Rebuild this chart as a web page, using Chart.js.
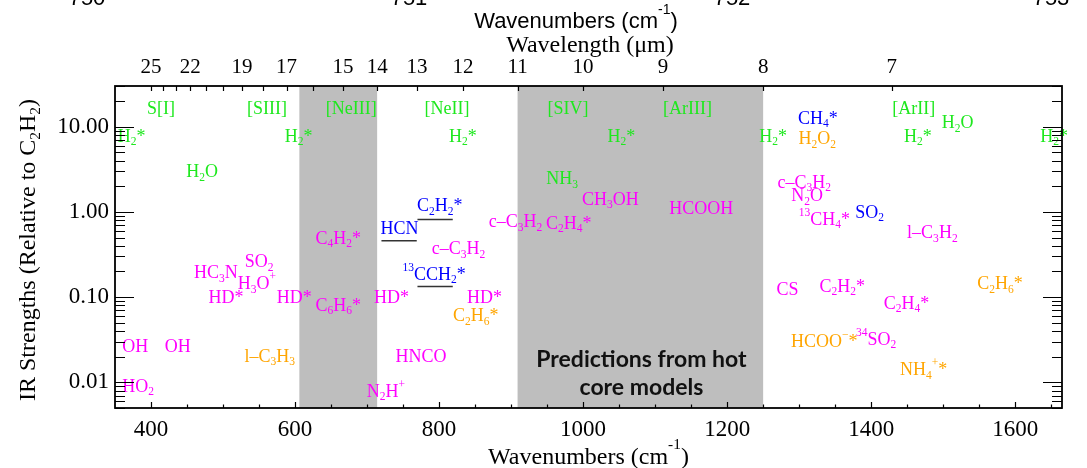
<!DOCTYPE html>
<html><head><meta charset="utf-8">
<script src="https://cdn.jsdelivr.net/npm/chart.js@4"></script>
<style>html,body{margin:0;padding:0;background:#fff;overflow:hidden}canvas{display:block}</style>
</head><body>
<canvas id="c" width="1087" height="468"></canvas>
<script>
// ---------- data ----------
const xMin = 350, xMax = 1665;            // wavenumber range (cm^-1)
const yMin = 0.005, yMax = 30;            // IR strength range
const bottomTicks = [400, 600, 800, 1000, 1200, 1400, 1600];
const yTicks = [0.01, 0.1, 1, 10];
const topTickMicrons = [25,24,23,22,21,20,19,18,17,16,15,14,13,12,11,10,9,8,7];
const topLabelMicrons = [25,22,19,17,15,14,13,12,11,10,9,8,7];
const shadedStart = [606, 909];
const shadedEnd = [714, 1250];
const topOffsetLabels = ['750', '751', '752', '753'];

// [text, wavenumber, strength]
const atomicAndH2Lines = [   // green
  ['S[I]', 414, 16.4], ['[SIII]', 561, 16.4], ['[NeIII]', 678, 16.4], ['[NeII]', 811, 16.4],
  ['[SIV]', 979, 16.4], ['[ArIII]', 1145, 16.4], ['[ArII]', 1459, 16.4],
  ['H_2*', 373, 7.83], ['H_2*', 605, 7.83], ['H_2*', 833, 7.83], ['H_2*', 1053, 7.83],
  ['H_2*', 1264, 7.83], ['H_2*', 1465, 7.83], ['H_2*', 1654, 7.83],
  ['H_2O', 471, 3.0], ['H_2O', 1520, 11.2], ['NH_3', 971, 2.48]
];
const iceAndGasSpecies = [   // magenta
  ['CH_3OH', 1038, 1.42], ['HCOOH', 1164, 1.12], ['c–C_3H_2', 906, 0.783], ['C_2H_4*', 980, 0.748],
  ['c–C_3H_2', 827, 0.375], ['C_4H_2*', 660, 0.496], ['HC_3N', 490, 0.197], ['SO_2', 550, 0.262],
  ['H_3O^+', 547, 0.145], ['HD*', 504, 0.1003], ['HD*', 599, 0.1003], ['HD*', 734, 0.1003],
  ['HD*', 863, 0.1003], ['C_6H_6*', 660, 0.0811], ['OH', 378, 0.0265], ['OH', 437, 0.0265],
  ['HO_2', 382, 0.00913], ['HNCO', 775, 0.0204], ['N_2H^+', 726, 0.00798],
  ['c–C_3H_2', 1307, 2.27], ['N_2O', 1311, 1.565], ['^{13}CH_4*', 1335, 0.829],
  ['l–C_3H_2', 1485, 0.577], ['CS', 1284, 0.1246], ['C_2H_2*', 1360, 0.136],
  ['C_2H_4*', 1449, 0.0863], ['^{34}SO_2', 1407, 0.0326]
];
const detectedSpecies = [    // blue
  ['HCN', 745, 0.641], ['C_2H_2*', 801, 1.197], ['^{13}CCH_2*', 793, 0.189],
  ['CH_4*', 1326, 12.7], ['SO_2', 1398, 1.0]
];
const tentativeSpecies = [   // orange
  ['H_2O_2', 1325, 7.32], ['l–C_3H_3', 565, 0.0206], ['C_2H_6*', 851, 0.0617],
  ['C_2H_6*', 1579, 0.1448], ['HCOO^−*', 1335, 0.0305], ['NH_4^+*', 1473, 0.0143]
];
// underline bands: [start wavenumber, end wavenumber, strength]
const bandStart = [720, 770, 770];
const bandEnd = [769, 819, 819];
const bandLevel = [0.459, 0.815, 0.1336];
// annotation
const annotationLines = ['Predictions from hot', 'core models'];
const annotationPos = [1081, 0.0103];

// ---------- rich text helper ----------
function parseRich(s) {
  const out = []; let i = 0;
  while (i < s.length) {
    const c = s[i];
    if (c === '_' || c === '^') {
      const mode = c === '_' ? 'sub' : 'sup'; i++;
      let t;
      if (s[i] === '{') { const j = s.indexOf('}', i); t = s.slice(i + 1, j); i = j + 1; }
      else { t = s[i]; i++; }
      out.push({ t, mode });
    } else {
      let j = i; while (j < s.length && s[j] !== '_' && s[j] !== '^') j++;
      out.push({ t: s.slice(i, j), mode: 'n' }); i = j;
    }
  }
  return out;
}
function drawRich(ctx, s, x, y, size, family, color, align, weight, supShift) {
  const parts = parseRich(s);
  const small = size * 0.64;
  const up = supShift === undefined ? 0.5 : supShift;
  const fontOf = m => `${weight || 'normal'} ${m === 'n' ? size : small}px ${family}`;
  let w = 0;
  parts.forEach(p => { ctx.font = fontOf(p.mode); p.w = ctx.measureText(p.t).width; w += p.w; });
  let cx = align === 'center' ? x - w / 2 : (align === 'right' ? x - w : x);
  ctx.fillStyle = color; ctx.textBaseline = 'alphabetic'; ctx.textAlign = 'left';
  parts.forEach(p => {
    ctx.font = fontOf(p.mode);
    const dy = p.mode === 'sub' ? size * 0.2 : (p.mode === 'sup' ? -size * up : 0);
    ctx.fillText(p.t, cx, y + dy); cx += p.w;
  });
  return w;
}

const SERIF = '"Liberation Serif", "Times New Roman", serif';
const SANS = '"Liberation Sans", Arial, sans-serif';

const overlay = {
  id: 'overlay',
  beforeDatasetsDraw(chart) {
    const { ctx, chartArea: a, scales: { x } } = chart;
    ctx.save();
    ctx.fillStyle = '#bebebe';
    for (let i = 0; i < shadedStart.length; i++) {
      const x0 = x.getPixelForValue(shadedStart[i]), x1 = x.getPixelForValue(shadedEnd[i]);
      ctx.fillRect(x0, a.top, x1 - x0, a.bottom - a.top);
    }
    ctx.restore();
  },
  afterDatasetsDraw(chart) {
    const { ctx, scales: { x, y } } = chart;
    ctx.save();
    const groups = [[atomicAndH2Lines, '#1ee81e'], [iceAndGasSpecies, '#ff00ff'],
                    [detectedSpecies, '#0000ff'], [tentativeSpecies, '#ffa500']];
    const size = 18;
    groups.forEach(([list, col]) => {
      list.forEach(([t, wn, v]) => {
        const px = x.getPixelForValue(wn), py = y.getPixelForValue(v);
        drawRich(ctx, t, px, py + size * 0.331, size, SERIF, col, 'center');
      });
    });
    // annotation
    const ax = x.getPixelForValue(annotationPos[0]), ay = y.getPixelForValue(annotationPos[1]);
    ctx.fillStyle = '#111'; ctx.textAlign = 'center'; ctx.textBaseline = 'alphabetic';
    ctx.font = 'bold 23px Lato, "Open Sans", sans-serif';
    ctx.fillText(annotationLines[0], ax, ay - 14);
    ctx.fillText(annotationLines[1], ax, ay + 14);
    ctx.restore();
  },
  afterDraw(chart) {
    const { ctx, chartArea: a, scales: { x, y } } = chart;
    ctx.save();
    ctx.strokeStyle = '#000';
    // ticks
    ctx.lineWidth = 1.2;
    ctx.beginPath();
    for (let v = 400; v <= xMax; v += 50) {
      const px = Math.round(x.getPixelForValue(v)) + 0.5;
      const len = (v % 200 === 0) ? 6 : 3.5;
      ctx.moveTo(px, a.bottom); ctx.lineTo(px, a.bottom - len);
    }
    topTickMicrons.forEach(m => {
      const px = Math.round(x.getPixelForValue(1e4 / m)) + 0.5;
      ctx.moveTo(px, a.top); ctx.lineTo(px, a.top + 5);
    });
    for (let e = -3; e <= 1; e++) {
      for (let m = 1; m <= 9; m++) {
        const v = m * Math.pow(10, e);
        if (v < yMin * 0.999 || v > yMax * 1.001) continue;
        const py = Math.round(y.getPixelForValue(v)) + 0.5;
        const len = m === 1 ? 19 : 10;
        ctx.moveTo(a.left, py); ctx.lineTo(a.left + len, py);
        ctx.moveTo(a.right, py); ctx.lineTo(a.right - len, py);
      }
    }
    ctx.stroke();
    // frame
    ctx.lineWidth = 1.8;
    ctx.strokeRect(a.left, a.top, a.right - a.left, a.bottom - a.top);
    // titles
    const cxm = (a.left + a.right) / 2;
    drawRich(ctx, 'Wavenumbers (cm^{-1})', cxm, 464, 24, SERIF, '#000', 'center', 'normal', 0.62);
    drawRich(ctx, 'Wavelength (μm)', 590, 52, 24, SERIF, '#000', 'center');
    drawRich(ctx, 'Wavenumbers (cm^{-1})', 576, 28, 22, SANS, '#000', 'center', 'normal', 0.62);
    const offX = [87, 409, 732, 1051];
    ctx.font = '22px ' + SANS; ctx.fillStyle = '#000'; ctx.textAlign = 'center'; ctx.textBaseline = 'alphabetic';
    topOffsetLabels.forEach((t, i) => ctx.fillText(t, offX[i], 5));
    ctx.save();
    ctx.translate(35, (a.top + a.bottom) / 2 + 3);
    ctx.rotate(-Math.PI / 2);
    drawRich(ctx, 'IR Strengths (Relative to C_2H_2)', 0, 0, 24, SERIF, '#000', 'center');
    ctx.restore();
    ctx.restore();
  }
};

const tickFont = { family: SERIF, size: 23, lineHeight: 1 };
new Chart(document.getElementById('c'), {
  type: 'scatter',
  data: {
    datasets: bandStart.map((s, i) => ({
      type: 'line', showLine: true, fill: false, pointRadius: 0,
      borderColor: '#333', borderWidth: 1.5,
      data: [{ x: s, y: bandLevel[i] }, { x: bandEnd[i], y: bandLevel[i] }]
    }))
  },
  options: {
    responsive: false, animation: false, devicePixelRatio: 1,
    layout: { padding: { left: 0, right: 25, top: 0, bottom: 0 } },
    plugins: { legend: { display: false }, tooltip: { enabled: false }, title: { display: false } },
    scales: {
      x: {
        type: 'linear', position: 'bottom', min: xMin, max: xMax,
        grid: { display: false, drawTicks: false }, border: { display: false },
        afterBuildTicks: s => { s.ticks = bottomTicks.map(v => ({ value: v })); },
        ticks: { autoSkip: false, maxRotation: 0, padding: 10, color: '#000', font: tickFont,
                 callback: v => String(Math.round(v)) },
        afterFit: s => { s.height = 60; }
      },
      x2: {
        type: 'linear', position: 'top', min: xMin, max: xMax,
        grid: { display: false, drawTicks: false }, border: { display: false },
        afterBuildTicks: s => { s.ticks = topLabelMicrons.map(m => ({ value: 1e4 / m })); },
        ticks: { autoSkip: false, maxRotation: 0, padding: 8, color: '#000',
                 font: { family: SERIF, size: 21, lineHeight: 1 },
                 callback: v => String(Math.round(1e4 / v)) },
        afterFit: s => { s.height = 86; }
      },
      y: {
        type: 'logarithmic', position: 'left', min: yMin, max: yMax,
        grid: { display: false, drawTicks: false }, border: { display: false },
        afterBuildTicks: s => { s.ticks = yTicks.map(v => ({ value: v })); },
        ticks: { autoSkip: false, padding: 6, color: '#000', font: tickFont,
                 callback: v => Number(v).toFixed(2) },
        afterFit: s => { s.width = 115; }
      }
    }
  },
  plugins: [overlay]
});
</script>
</body></html>
